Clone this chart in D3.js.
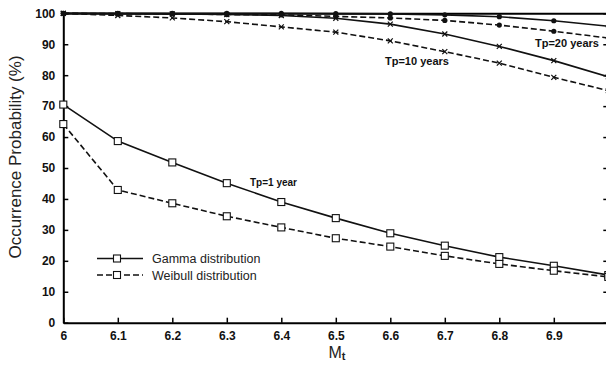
<!DOCTYPE html>
<html>
<head>
<meta charset="utf-8">
<script src="https://cdn.jsdelivr.net/npm/d3@7"></script>
<style>
  body { margin: 0; background: #fff; }
  #container { width: 606px; height: 369px; overflow: hidden; }
  text { font-family: Arial, "Liberation Sans", sans-serif; }
</style>
</head>
<body>
<div id="container"></div>
<script>
// magnitude threshold Mt
let mt = [6.0, 6.1, 6.2, 6.3, 6.4, 6.5, 6.6, 6.7, 6.8, 6.9, 7.0];

// Tp = 1 year
let gamma1   = [70.5, 58.7, 51.8, 45.1, 39.0, 33.8, 28.9, 24.9, 21.2, 18.4, 15.4];
let weibull1 = [64.2, 42.9, 38.6, 34.4, 30.8, 27.3, 24.6, 21.6, 19.0, 16.8, 14.8];
// Tp = 10 years
let gamma10   = [100, 99.9, 99.8, 99.6, 99.3, 98.4, 96.5, 93.3, 89.3, 84.7, 79.5];
let weibull10 = [100, 99.3, 98.5, 97.3, 95.6, 93.9, 91.1, 87.6, 83.9, 79.3, 75.0];
// Tp = 20 years
let gamma20   = [100, 100, 100, 100, 100, 99.9, 99.8, 99.5, 98.9, 97.6, 95.8];
let weibull20 = [100, 99.9, 99.8, 99.6, 99.5, 99.0, 98.5, 97.7, 96.2, 94.2, 92.0];

// the "7" tick sits on the cropped right edge, so it has no label
let xTicks = [6.0, 6.1, 6.2, 6.3, 6.4, 6.5, 6.6, 6.7, 6.8, 6.9, 7.0];
let xTickLabels = ["6", "6.1", "6.2", "6.3", "6.4", "6.5", "6.6", "6.7", "6.8", "6.9", ""];
let yTicks = [0, 10, 20, 30, 40, 50, 60, 70, 80, 90, 100];

let svg = d3.select("#container")
  .append("svg")
  .attr("width", 606)
  .attr("height", 369);

let x = d3.scaleLinear().domain([6, 7]).range([63.3, 608.3]);
let y = d3.scaleLinear().domain([0, 100]).range([322.7, 13.3]);

// axes
let axBottom = svg.append("g")
  .attr("transform", "translate(0," + y(0) + ")")
  .call(d3.axisBottom(x).tickValues(xTicks)
    .tickFormat(function (d, i) { return xTickLabels[i]; })
    .tickSizeInner(-5).tickSizeOuter(0).tickPadding(9));
let axLeft = svg.append("g")
  .attr("transform", "translate(" + x(6) + ",0)")
  .call(d3.axisLeft(y).tickValues(yTicks).tickSizeInner(-5).tickSizeOuter(0).tickPadding(8));
let axRight = svg.append("g")
  .attr("transform", "translate(" + x(7) + ",0)")
  .call(d3.axisRight(y).tickValues(yTicks).tickFormat("").tickSizeInner(-5).tickSizeOuter(0));
let axTop = svg.append("g")
  .attr("transform", "translate(0," + y(100) + ")")
  .call(d3.axisTop(x).tickValues([]).tickSizeOuter(0));

[axBottom, axLeft, axRight, axTop].forEach(function (g) {
  g.select(".domain").attr("stroke", "#000").attr("stroke-width", 2);
  g.selectAll(".tick line").attr("stroke", "#000").attr("stroke-width", 1.5);
  g.selectAll(".tick text")
    .attr("fill", "#111")
    .attr("font-size", 12)
    .attr("font-weight", "bold")
    .attr("font-family", "Arial, 'Liberation Sans', sans-serif");
});

// series
let series = [
  { vals: gamma1,    dash: null,  mark: "square" },
  { vals: weibull1,  dash: "6,3", mark: "square" },
  { vals: gamma10,   dash: null,  mark: "cross" },
  { vals: weibull10, dash: "6,3", mark: "cross" },
  { vals: gamma20,   dash: null,  mark: "dot" },
  { vals: weibull20, dash: "6,3", mark: "dot" }
];

let line = d3.line()
  .x(function (d, i) { return x(mt[i]); })
  .y(function (d) { return y(d); });

series.forEach(function (s) {
  let g = svg.append("g");
  g.append("path")
    .attr("d", line(s.vals))
    .attr("fill", "none")
    .attr("stroke", "#111")
    .attr("stroke-width", 1.6)
    .attr("stroke-dasharray", s.dash);

  let pts = g.selectAll(".pt").data(s.vals).enter();
  if (s.mark === "square") {
    pts.append("rect")
      .attr("x", function (d, i) { return x(mt[i]) - 3.5; })
      .attr("y", function (d) { return y(d) - 3.5; })
      .attr("width", 7)
      .attr("height", 7)
      .attr("fill", "#fff")
      .attr("stroke", "#111")
      .attr("stroke-width", 1.1);
  } else if (s.mark === "cross") {
    pts.append("path")
      .attr("transform", function (d, i) { return "translate(" + x(mt[i]) + "," + y(d) + ")"; })
      .attr("d", "M-2.5,-2.5L2.5,2.5M-2.5,2.5L2.5,-2.5")
      .attr("stroke", "#111")
      .attr("stroke-width", 1.2);
  } else {
    pts.append("circle")
      .attr("cx", function (d, i) { return x(mt[i]); })
      .attr("cy", function (d) { return y(d); })
      .attr("r", 2.6)
      .attr("fill", "#111");
  }
});

// curve labels
svg.append("text").text("Tp=1 year")
  .attr("x", 250).attr("y", 186)
  .attr("font-size", 10).attr("font-weight", "bold").attr("fill", "#111");
svg.append("text").text("Tp=10 years")
  .attr("x", 385).attr("y", 65)
  .attr("font-size", 11).attr("font-weight", "bold").attr("fill", "#111");
svg.append("text").text("Tp=20 years")
  .attr("x", 535).attr("y", 47)
  .attr("font-size", 11).attr("font-weight", "bold").attr("fill", "#111");

// legend
let legend = svg.append("g");
let legendItems = [
  { name: "Gamma distribution", dash: null, y: 258.5 },
  { name: "Weibull distribution", dash: "6,3", y: 275 }
];
legendItems.forEach(function (d) {
  legend.append("line")
    .attr("x1", 97).attr("x2", 143)
    .attr("y1", d.y).attr("y2", d.y)
    .attr("stroke", "#111").attr("stroke-width", 1.6)
    .attr("stroke-dasharray", d.dash);
  legend.append("rect")
    .attr("x", 113.5).attr("y", d.y - 3.5)
    .attr("width", 7).attr("height", 7)
    .attr("fill", "#fff").attr("stroke", "#111").attr("stroke-width", 1.1);
  legend.append("text").text(d.name)
    .attr("x", 152).attr("y", d.y + 4.5)
    .attr("font-size", 12.5).attr("fill", "#222");
});

// axis titles
svg.append("text")
  .attr("transform", "translate(21,157) rotate(-90)")
  .attr("text-anchor", "middle")
  .attr("font-size", 17)
  .attr("fill", "#222")
  .text("Occurrence Probability (%)");

let mtLabel = svg.append("text")
  .attr("x", 337).attr("y", 358)
  .attr("text-anchor", "middle")
  .attr("font-size", 16)
  .attr("fill", "#222");
mtLabel.append("tspan").text("M");
mtLabel.append("tspan").text("t")
  .attr("font-size", 11).attr("font-weight", "bold").attr("dy", 2);
</script>
</body>
</html>
